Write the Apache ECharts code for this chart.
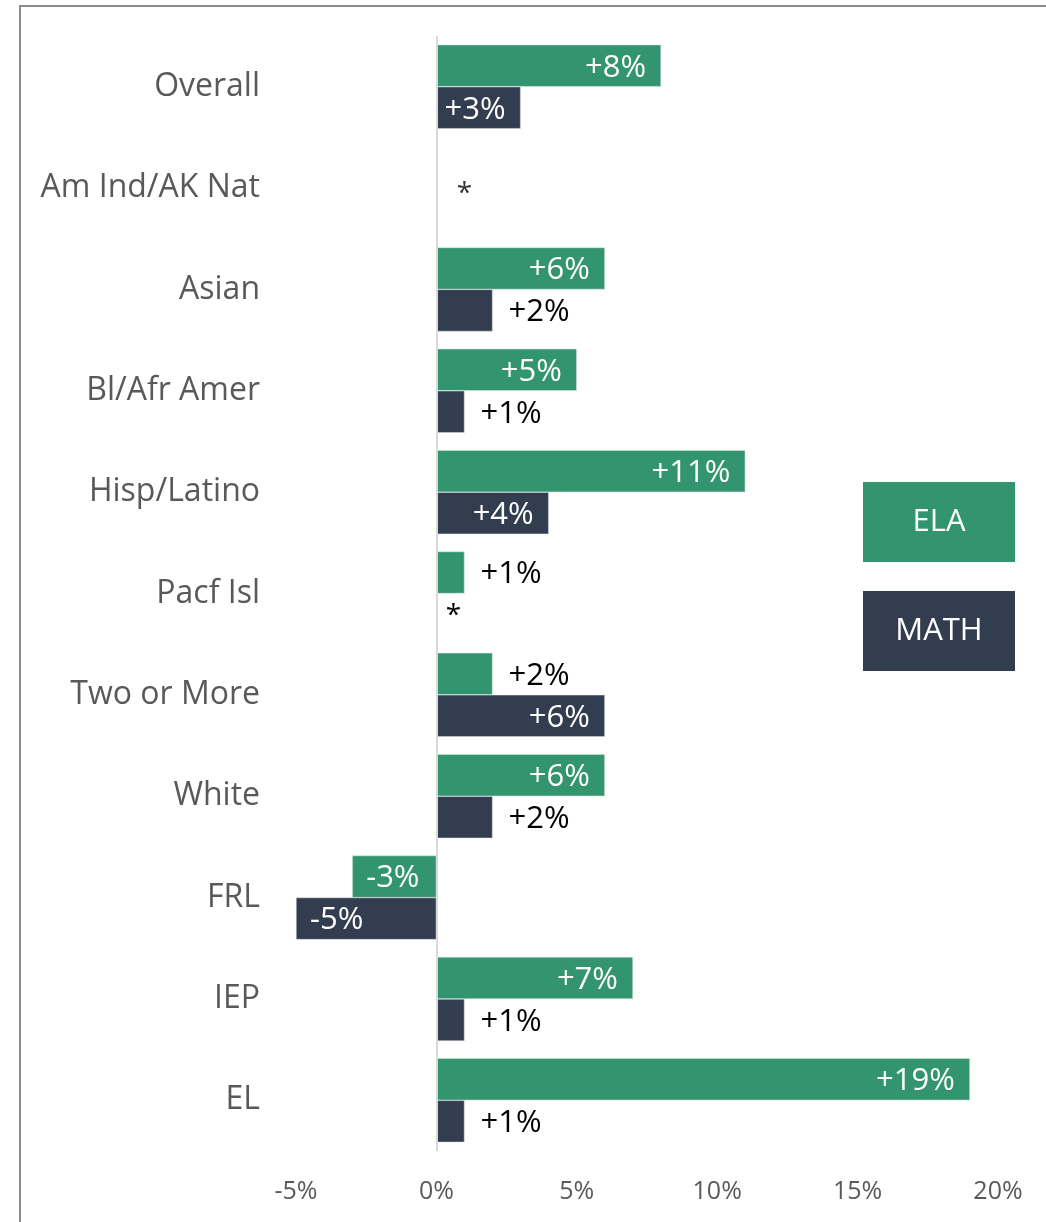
<!DOCTYPE html>
<html>
<head>
<meta charset="utf-8">
<script src="https://cdn.jsdelivr.net/npm/echarts@6/dist/echarts.min.js"></script>
<style>
html, body { margin: 0; padding: 0; background: #fff; }
#container { width: 1046px; height: 1222px; }
</style>
</head>
<body>
<div id="container"></div>
<script>
var categories = ['Overall', 'Am Ind/AK Nat', 'Asian', 'Bl/Afr Amer', 'Hisp/Latino', 'Pacf Isl',
    'Two or More', 'White', 'FRL', 'IEP', 'EL'];
var elaValues = [8, null, 6, 5, 11, 1, 2, 6, -3, 7, 19];
var mathValues = [3, null, 2, 1, 4, 0, 6, 2, -5, 1, 1];
// groups with suppressed results (shown as *)
var suppressed = [['Am Ind/AK Nat', 1]];
var xTicks = { min: -5, max: 20, step: 5 };

var green = '#33956F';
var navy = '#333D50';
var font = 'Open Sans';

function barLabel(v) {
    if (v === null) return null;
    if (v === 0) {
        return { show: true, position: 'right', distance: 9, color: '#000', formatter: '*', fontSize: 28 };
    }
    if (v < 0) return { show: true, position: 'insideLeft', distance: 14, color: '#fff' };
    if (v >= 3) return { show: true, position: 'insideRight', distance: 15, color: '#fff' };
    return { show: true, position: 'right', distance: 16, color: '#000' };
}

function toItems(arr) {
    return arr.map(function (v) {
        if (v === null) return null;
        return { value: v, label: barLabel(v) };
    });
}

function fmt(p) {
    var v = p.value;
    return (v > 0 ? '+' : '') + v + '%';
}

var dom = document.getElementById('container');
var myChart = echarts.init(dom);

var boxStyle = {
    width: 152,
    height: 80,
    lineHeight: 80,
    align: 'center',
    color: '#fff',
    fontFamily: font,
    fontSize: 31
};

var option = {
    animation: false,
    backgroundColor: '#fff',
    grid: { left: 296, right: 48, top: 36, bottom: 71, containLabel: false },
    legend: {
        orient: 'vertical',
        left: 852,
        top: 477,
        itemWidth: 0,
        itemHeight: 0,
        itemGap: 29,
        selectedMode: false,
        data: ['ELA', 'MATH'],
        formatter: function (name) {
            return '{' + (name === 'ELA' ? 'e' : 'm') + '|' + name + '}';
        },
        textStyle: {
            rich: {
                e: Object.assign({ backgroundColor: green }, boxStyle),
                m: Object.assign({ backgroundColor: navy }, boxStyle)
            }
        }
    },
    xAxis: {
        type: 'value',
        min: xTicks.min,
        max: xTicks.max,
        interval: xTicks.step,
        axisLine: { show: false },
        axisTick: { show: false },
        splitLine: { show: false },
        axisLabel: {
            formatter: '{value}%',
            color: '#595959',
            fontFamily: font,
            fontSize: 25,
            margin: 28
        }
    },
    yAxis: {
        type: 'category',
        inverse: true,
        data: categories,
        axisLine: { show: false, onZero: false },
        axisTick: { show: false },
        axisLabel: {
            color: '#595959',
            fontFamily: font,
            fontSize: 32,
            margin: 36
        }
    },
    graphic: [{
        type: 'rect',
        silent: true,
        shape: { x: 20, y: 6, width: 1200, height: 1400 },
        style: { fill: 'none', stroke: '#8c8c8c', lineWidth: 2 }
    }],
    series: [
        {
            name: 'ELA',
            type: 'bar',
            barWidth: 42,
            barGap: '0%',
            itemStyle: { color: green, borderColor: '#dfe9e4', borderWidth: 0.5 },
            label: { show: true, formatter: fmt, fontFamily: font, fontSize: 31, offset: [0, 2] },
            data: toItems(elaValues),
            markLine: {
                silent: true,
                symbol: 'none',
                label: { show: false },
                lineStyle: { color: '#d9d9d9', width: 2, type: 'solid' },
                data: [{ xAxis: 0 }]
            }
        },
        {
            name: 'MATH',
            type: 'bar',
            barWidth: 42,
            barGap: '0%',
            itemStyle: { color: navy, borderColor: '#dde0e6', borderWidth: 0.5 },
            label: { show: true, formatter: fmt, fontFamily: font, fontSize: 31, offset: [0, 2] },
            data: toItems(mathValues)
        },
        {
            name: 'note',
            type: 'scatter',
            symbolSize: 0,
            silent: true,
            label: {
                show: true,
                position: 'inside',
                formatter: '*',
                color: '#000',
                fontFamily: font,
                fontSize: 28,
                offset: [0, 6]
            },
            data: suppressed.map(function (d) { return [d[1], d[0]]; })
        }
    ]
};

if (option && typeof option === 'object') {
    myChart.setOption(option, true);
}
</script>
</body>
</html>
